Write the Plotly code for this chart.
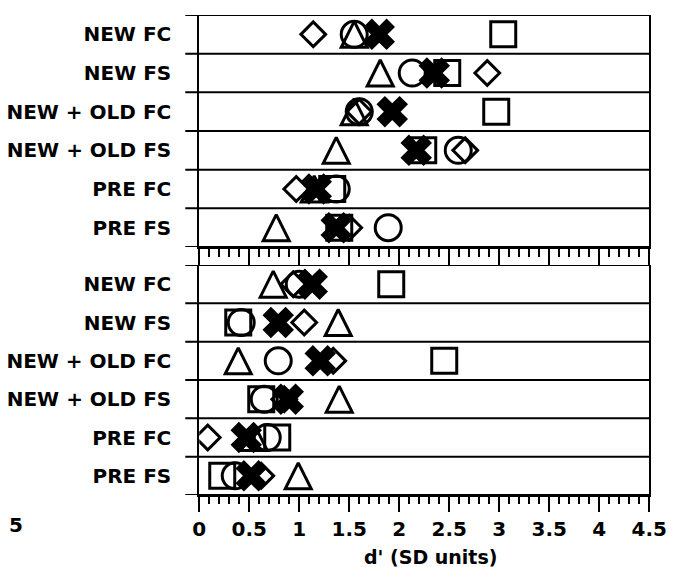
import plotly.graph_objects as go

# ---------------- data ----------------
rows = ["NEW FC", "NEW FS", "NEW + OLD FC", "NEW + OLD FS", "PRE FC", "PRE FS"]
x_ticks = [0, 0.5, 1, 1.5, 2, 2.5, 3, 3.5, 4, 4.5]
x_tick_text = ["0", "0.5", "1", "1.5", "2", "2.5", "3", "3.5", "4", "4.5"]

# upper panel d' values, one per row (order of rows)
up_square = [3.04, 2.48, 2.97, 2.24, 1.33, 1.40]
up_circle = [1.55, 2.13, 1.60, 2.59, 1.37, 1.89]
up_triangle = [1.55, 1.81, 1.55, 1.37, 1.15, 0.77]
up_diamond = [1.14, 2.88, 1.60, 2.66, 0.97, 1.50]
up_cross = [1.80, 2.35, 1.93, 2.17, 1.17, 1.37]

# lower panel d' values
lo_square = [1.92, 0.39, 2.45, 0.62, 0.78, 0.23]
lo_circle = [1.00, 0.42, 0.79, 0.65, 0.68, 0.36]
lo_triangle = [0.74, 1.39, 0.39, 1.40, 0.55, 0.99]
lo_diamond = [0.94, 1.05, 1.34, 0.85, 0.085, 0.62]
lo_cross = [1.13, 0.79, 1.21, 0.89, 0.47, 0.52]

# ---------------- layout geometry ----------------
W, H = 687, 567
FONT = "DejaVu Sans"
x_left, x_right = 199.5, 666.5          # px
up_top, up_bot = 15, 247                 # px
lo_top, lo_bot = 265, 495                # px
line_left = 185                          # separators start px

def py(p):
    return 1 - p / H

xdom = [x_left / W, x_right / W]
ypos = list(range(len(rows)))
yrange = [len(rows) - 0.5, -0.5]

SQ, CI, TR, DI, XS = 25, 26, 26, 19, 26
LW = 3

fig = go.Figure()

def add_panel(xa, ya, ya_tri, sq, ci, tr, di, cr):
    common = dict(mode="markers", showlegend=False, xaxis=xa, yaxis=ya, hoverinfo="skip")
    fig.add_trace(go.Scatter(x=sq, y=ypos, marker=dict(symbol="square-open", size=SQ, color="black",
                                                        line=dict(width=LW, color="black")), **common))
    fig.add_trace(go.Scatter(x=ci, y=ypos, marker=dict(symbol="circle-open", size=CI, color="black",
                                                        line=dict(width=LW, color="black")), **common))
    c2 = dict(common)
    c2["yaxis"] = ya_tri
    fig.add_trace(go.Scatter(x=tr, y=ypos, marker=dict(symbol="arrow-up-open", size=TR, color="black",
                                                        line=dict(width=LW, color="black")), **c2))
    fig.add_trace(go.Scatter(x=di, y=ypos, marker=dict(symbol="diamond-open", size=DI, color="black",
                                                        line=dict(width=LW, color="black")), **common))
    fig.add_trace(go.Scatter(x=cr, y=ypos, marker=dict(symbol="x", size=XS, color="black",
                                                        line=dict(width=1.5, color="black")), **common))

add_panel("x", "y", "y3", up_square, up_circle, up_triangle, up_diamond, up_cross)
add_panel("x2", "y2", "y4", lo_square, lo_circle, lo_triangle, lo_diamond, lo_cross)

# triangle ("arrow-up") apex sits on the point; shift overlay axis so the symbol is centred
row_px_up = (up_bot - up_top) / len(rows)
row_px_lo = (lo_bot - lo_top) / len(rows)
s_up = (TR / 2) / row_px_up
s_lo = (TR / 2) / row_px_lo

axfont = dict(family=FONT, size=20, color="black", weight="bold")

xcommon = dict(range=[0, 4.5], showgrid=False, zeroline=False, showline=True, linecolor="black",
               linewidth=2, ticks="outside", tickvals=x_ticks, tickwidth=2, tickcolor="black",
               domain=xdom)
fig.update_layout(
    width=W, height=H, margin=dict(l=0, r=0, t=0, b=0),
    paper_bgcolor="white", plot_bgcolor="white",
    xaxis=dict(anchor="y", ticklen=17, showticklabels=False,
               minor=dict(dtick=0.1, ticks="outside", ticklen=8, tickwidth=1.5, tickcolor="black"),
               **xcommon),
    xaxis2=dict(anchor="y2", ticklen=15, ticktext=x_tick_text, tickfont=axfont,
                minor=dict(dtick=0.1, ticks="outside", ticklen=7, tickwidth=1.5, tickcolor="black"),
                **xcommon),
    yaxis=dict(domain=[py(up_bot), py(up_top)], range=yrange, anchor="x", showgrid=False, zeroline=False,
               showline=True, mirror=True, linecolor="black", linewidth=2, ticks="",
               tickvals=ypos, ticktext=rows, tickfont=axfont, ticklabelstandoff=22),
    yaxis2=dict(domain=[py(lo_bot), py(lo_top)], range=yrange, anchor="x2", showgrid=False, zeroline=False,
                showline=True, mirror=True, linecolor="black", linewidth=2, ticks="",
                tickvals=ypos, ticktext=rows, tickfont=axfont, ticklabelstandoff=22),
    yaxis3=dict(overlaying="y", range=[yrange[0] + s_up, yrange[1] + s_up], visible=False),
    yaxis4=dict(overlaying="y2", range=[yrange[0] + s_lo, yrange[1] + s_lo], visible=False),
)

# row separator lines (extend slightly left of the axis)
shapes = []
for yref in ["y", "y2"]:
    for k in range(len(rows) + 1):
        shapes.append(dict(type="line", xref="paper", yref=yref, x0=line_left / W, x1=x_right / W,
                           y0=k - 0.5, y1=k - 0.5, line=dict(color="black", width=2)))
fig.update_layout(shapes=shapes)

fig.add_annotation(text="d' (SD units)", xref="paper", yref="paper", x=440 / W, y=py(557),
                   xanchor="center", yanchor="middle", showarrow=False,
                   font=dict(family=FONT, size=19, color="black", weight="bold"))
fig.add_annotation(text="5", xref="paper", yref="paper", x=0, y=py(525),
                   xanchor="left", yanchor="middle", showarrow=False,
                   font=dict(family=FONT, size=20, color="black", weight="bold"))

fig.write_html("out.html")
